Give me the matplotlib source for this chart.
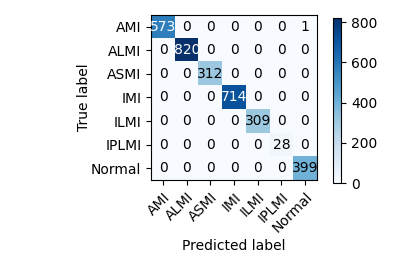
import numpy as np
import matplotlib
matplotlib.use("Agg")
import matplotlib.pyplot as plt

classes = ["AMI", "ALMI", "ASMI", "IMI", "ILMI", "IPLMI", "Normal"]
cm = np.array([
    [573, 0, 0, 0, 0, 0, 1],
    [0, 820, 0, 0, 0, 0, 0],
    [0, 0, 312, 0, 0, 0, 0],
    [0, 0, 0, 714, 0, 0, 0],
    [0, 0, 0, 0, 309, 0, 0],
    [0, 0, 0, 0, 0, 28, 0],
    [0, 0, 0, 0, 0, 0, 399],
])

fs = 10
fig = plt.figure(figsize=(3.99, 2.66), dpi=100)
ax = fig.add_axes([0.379, 0.323, 0.415, 0.621])
cax = fig.add_axes([0.835, 0.312, 0.02, 0.62])
im = ax.imshow(cm, interpolation="nearest", cmap=plt.cm.Blues, aspect="auto")
cb = fig.colorbar(im, cax=cax)
cb.ax.tick_params(labelsize=fs)

ticks = np.arange(len(classes))
ax.set_xticks(ticks)
ax.set_xticklabels(classes, rotation=45, ha="right", rotation_mode="anchor", fontsize=fs)
ax.set_yticks(ticks)
ax.set_yticklabels(classes, fontsize=fs)
ax.set_ylabel("True label", fontsize=fs, labelpad=0)
ax.set_xlabel("Predicted label", fontsize=fs, labelpad=2.5)

thresh = cm.max() / 2.0
for i in range(cm.shape[0]):
    for j in range(cm.shape[1]):
        ax.text(j, i, format(cm[i, j], "d"), ha="center", va="center",
                fontsize=fs, color="white" if cm[i, j] > thresh else "black")

fig.savefig("out.png", dpi=100)
